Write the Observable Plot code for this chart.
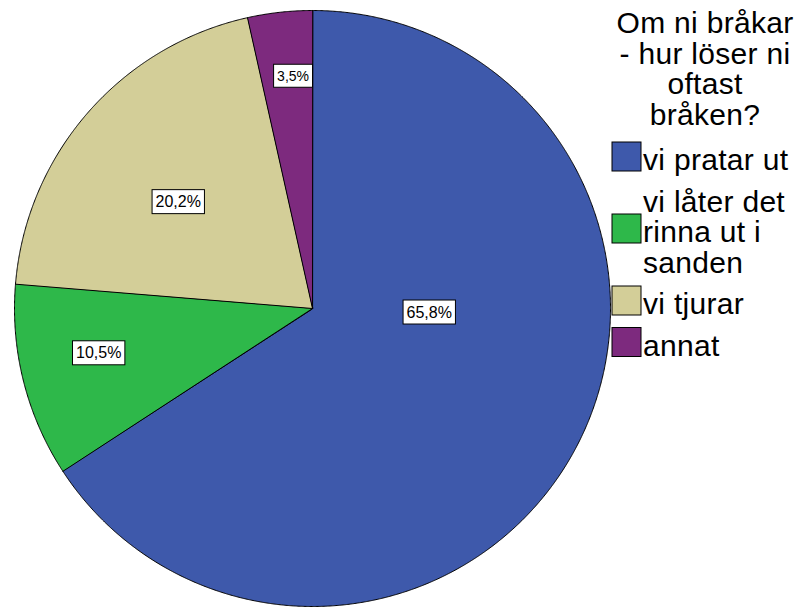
<!DOCTYPE html>
<html><head><meta charset="utf-8">
<script src="https://cdn.jsdelivr.net/npm/d3@7"></script>
<script src="https://cdn.jsdelivr.net/npm/@observablehq/plot@0.6"></script>
<style>
body{margin:0;background:#fff;}
#chart{position:relative;width:807px;height:607px;overflow:hidden;}
#legend{position:absolute;left:0;top:0;}
</style></head><body><div id="chart"></div>
<script>
const categories = ["vi pratar ut", "vi låter det rinna ut i sanden", "vi tjurar", "annat"];
const percents = [65.8, 10.5, 20.2, 3.5];
const colors = ["#3e59ab", "#2eb84a", "#d3ce98", "#7d2a7e"];
const legendTitle = ["Om ni bråkar", "- hur löser ni", "oftast", "bråken?"];
const legendLines = [["vi pratar ut"], ["vi låter det", "rinna ut i", "sanden"], ["vi tjurar"], ["annat"]];

const fmt = v => v.toFixed(1).replace(".", ",") + "%";
const pie = d3.pie().sort(null).value(d => d.value)(categories.map((c, i) => ({key: c, value: percents[i]})));
const pts = [];
for (const a of pie) {
  pts.push({key: a.data.key, x: 0, y: 0});
  const n = Math.max(2, Math.ceil((a.endAngle - a.startAngle) / 0.004));
  for (let k = 0; k <= n; k++) {
    const t = a.startAngle + (a.endAngle - a.startAngle) * k / n;
    pts.push({key: a.data.key, x: Math.sin(t), y: Math.cos(t)});
  }
}
// label anchor: [fraction along slice angle, fraction of radius]
const placement = [[0.388, 0.392], [0.564, 0.733], [0.464, 0.575], [0.62, 0.782]];
const labels = pie.map((a, i) => {
  const t = a.startAngle + (a.endAngle - a.startAngle) * placement[i][0];
  const r = placement[i][1];
  return {x: r * Math.sin(t), y: r * Math.cos(t), value: a.data.value};
});

const font = "'Liberation Sans', Arial, sans-serif";
const plot = Plot.plot({
  width: 807, height: 607,
  marginLeft: 14, marginRight: 197, marginTop: 10, marginBottom: 1,
  x: {domain: [-1, 1], axis: null},
  y: {domain: [-1, 1], axis: null},
  color: {domain: categories, range: colors},
  style: {fontFamily: font, background: "white"},
  marks: [
    Plot.line(pts, {x: "x", y: "y", z: "key", fill: "key", stroke: "black", strokeWidth: 1, curve: "linear-closed", strokeLinejoin: "round"}),
    Plot.text(labels, {x: "x", y: "y", text: d => fmt(d.value), fontSize: d => d.value < 5 ? 14 : 16, fill: "black", className: "slice-label"})
  ]
});
const chart = document.getElementById("chart");
chart.appendChild(plot);

// label boxes
d3.select(plot).selectAll("g.slice-label text").each(function() {
  const b = this.getBBox();
  const px = 3.5, py = 4;
  d3.select(this.parentNode).insert("rect", () => this)
    .attr("transform", this.getAttribute("transform"))
    .attr("x", b.x - px).attr("y", b.y - py + 0.5)
    .attr("width", b.width + 2 * px).attr("height", b.height + 2 * py - 1)
    .attr("fill", "white").attr("stroke", "black").attr("stroke-width", 1);
});

// legend
const lg = d3.select(chart).append("svg").attr("id", "legend")
  .attr("width", 807).attr("height", 607)
  .style("font-family", font).style("font-size", "30px").style("letter-spacing", "0.3px");
const titleBase = 33, titleStep = 30.7;
legendTitle.forEach((t, i) => {
  lg.append("text").attr("x", 705).attr("y", titleBase + i * titleStep)
    .attr("text-anchor", "middle").attr("fill", "black").text(t);
});
let base = 170;
const lineStep = 30.5, itemGap = 41.5;
legendLines.forEach((lines, i) => {
  const midBase = lines.length === 3 ? base + lineStep : base;
  lg.append("rect").attr("x", 612).attr("y", midBase - 28).attr("width", 29).attr("height", 29)
    .attr("fill", colors[i]).attr("stroke", "black").attr("stroke-width", 1);
  lines.forEach((l, j) => {
    lg.append("text").attr("x", 643).attr("y", base + j * lineStep).attr("fill", "black").text(l);
  });
  base += lineStep * (lines.length - 1) + itemGap;
});
</script></body></html>
